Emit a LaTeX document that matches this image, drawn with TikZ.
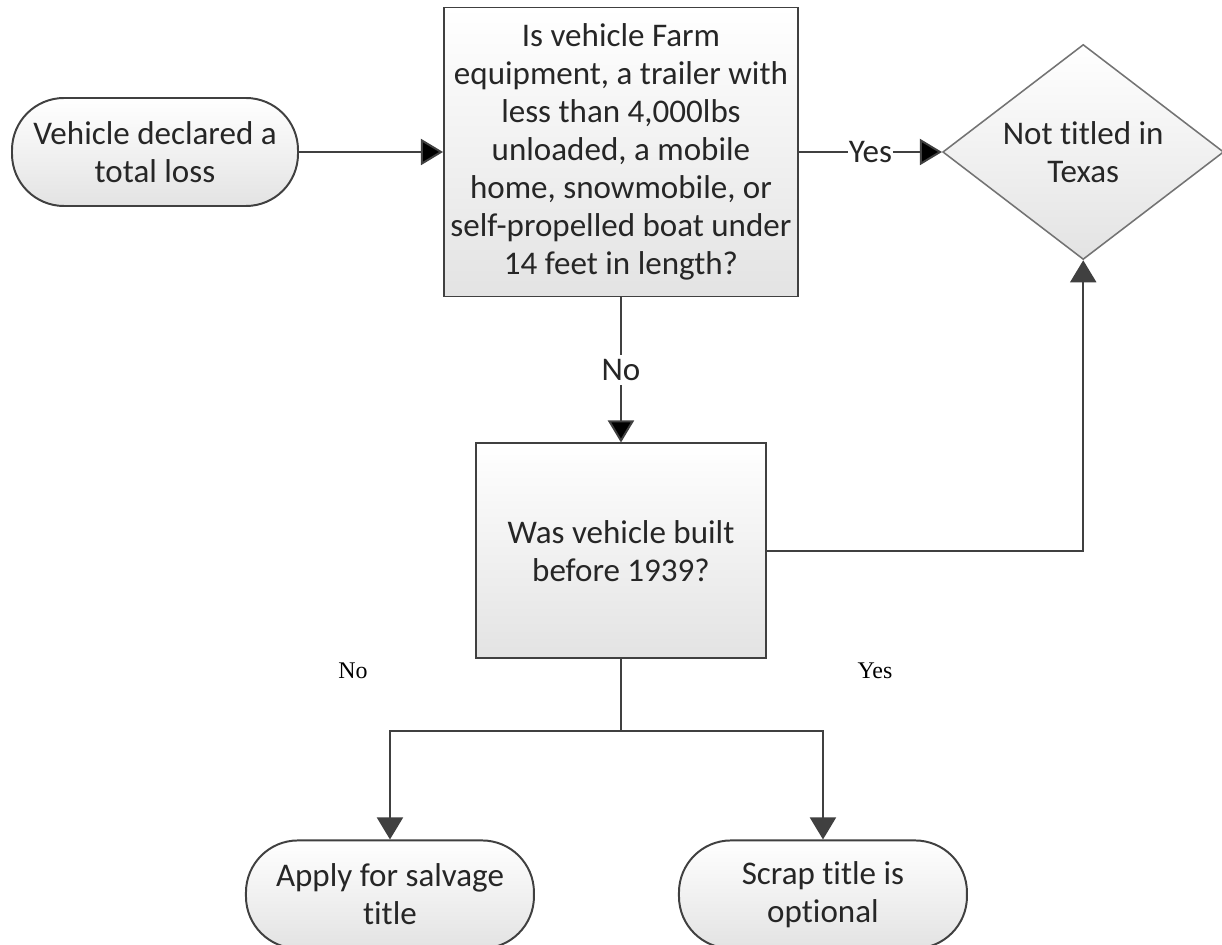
\documentclass[tikz,border=0pt]{standalone}
\usepackage{fontspec}
\setmainfont{Carlito}[Ligatures=NoCommon]
\newfontfamily\timesfont{Liberation Serif}
\usetikzlibrary{arrows.meta,positioning,shapes.geometric}
\definecolor{linegray}{HTML}{404040}
\definecolor{textgray}{HTML}{262626}

\begin{document}
\begin{tikzpicture}[>={Triangle[length=0.55cm,width=0.65cm]}, line width=1.4pt]
        \tikzset{block/.style= {draw=linegray, rectangle, align=center, top color=white, bottom color=black!11, text=textgray, inner sep=0pt, font=\fontsize{23.5}{27}\selectfont},
        rblock/.style={block, rounded corners=1.3cm, minimum width=7.2cm, minimum height=2.7cm},
        decision/.style={ % requires library shapes.geometric
        block,
        draw=black!55,
        line width=1.1pt,
        diamond,
        aspect=1.3,
        minimum width=7.025cm,
        minimum height=5.375cm
    },
        lbl/.style={fill=white, text=textgray, inner xsep=1pt, inner ysep=3pt, font=\fontsize{23.5}{27}\selectfont},
        note/.style={text=black, font=\timesfont\fontsize{17}{20}\selectfont}
        }
        \path[use as bounding box, fill=white] (-3.875,3.8) rectangle (26.675,-19.825);

        \node [rblock, minimum width=7.15cm] at (0,0) (start) {Vehicle declared a\\total loss};
        \node [block, right =3.6cm of start, minimum width=8.85cm, minimum height=7.225cm] (farm) {Is vehicle Farm\\equipment, a trailer with\\less than 4,000lbs\\unloaded, a mobile\\home, snowmobile, or\\self-propelled boat under\\14 feet in length?};
        \node [decision, right =3.575cm of farm] (texas) {Not titled in\\Texas};
        \node [block, below =3.625cm of farm, minimum width=7.25cm, minimum height=5.375cm] (built) {Was vehicle built\\before 1939?};
        \coordinate [below =1.8cm of built] (split);
        \node [rblock, below =2.7cm of split, xshift=-5.775cm] (salvage) {Apply for salvage\\title};
        \node [rblock, below =2.7cm of split, xshift=5.05cm] (scrap) {Scrap title is\\optional};
        \node [note] at ([xshift=-6.7cm, yshift=-0.275cm]built.south) (nolbl) {No};
        \node [note] at ([xshift=6.35cm, yshift=-0.275cm]built.south) (yeslbl) {Yes};

%% paths
        \path[draw=linegray,->] (start) edge (farm)
                    (farm) edge node[lbl] {Yes} (texas)
                    (farm) edge node[lbl] {No} (built);
        \draw[linegray] (built) -- (split);
        \draw[linegray,->] (split) -| (salvage);
        \draw[linegray,->] (split) -| (scrap);
        \draw[linegray,->] (built) -| (texas);
    \end{tikzpicture}
\end{document}
